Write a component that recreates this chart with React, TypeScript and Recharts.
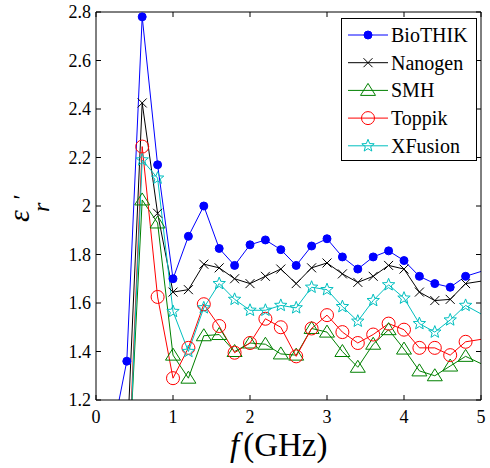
import React from "react";
import { LineChart, Line, XAxis, YAxis, Legend } from "recharts";

// frequency in GHz (last sample lies beyond the 5 GHz axis limit)
const freq = [0.2, 0.4, 0.6, 0.8, 1.0, 1.2, 1.4, 1.6, 1.8, 2.0, 2.2, 2.4, 2.6, 2.8, 3.0, 3.2, 3.4, 3.6, 3.8, 4.0, 4.2, 4.4, 4.6, 4.8, 5.2];

const bioTHIK = [1.04, 1.36, 2.78, 2.17, 1.7, 1.875, 2.0, 1.825, 1.755, 1.84, 1.86, 1.82, 1.755, 1.835, 1.865, 1.79, 1.74, 1.79, 1.815, 1.775, 1.71, 1.68, 1.665, 1.71, 1.75];
const nanogen = [null, 0.99, 2.425, 1.97, 1.645, 1.655, 1.76, 1.745, 1.7, 1.68, 1.71, 1.74, 1.68, 1.745, 1.765, 1.72, 1.685, 1.71, 1.755, 1.74, 1.645, 1.61, 1.615, 1.68, 1.7];
const smh = [null, 0.76, 2.025, 1.93, 1.385, 1.29, 1.465, 1.47, 1.4, 1.435, 1.43, 1.39, 1.385, 1.495, 1.48, 1.4, 1.335, 1.43, 1.49, 1.41, 1.32, 1.3, 1.34, 1.38, 1.32];
const toppik = [null, 0.75, 2.245, 1.625, 1.29, 1.415, 1.595, 1.505, 1.395, 1.435, 1.535, 1.5, 1.38, 1.495, 1.55, 1.48, 1.435, 1.47, 1.515, 1.49, 1.415, 1.415, 1.385, 1.44, 1.46];
const xFusion = [null, 0.72, 2.19, 2.115, 1.565, 1.4, 1.58, 1.68, 1.615, 1.57, 1.57, 1.59, 1.58, 1.665, 1.655, 1.585, 1.525, 1.61, 1.675, 1.62, 1.515, 1.48, 1.53, 1.59, 1.52];

const xTicks = [0, 1, 2, 3, 4, 5];
const yTicks = [1.2, 1.4, 1.6, 1.8, 2, 2.2, 2.4, 2.6, 2.8];

const data = freq.map((f, i) => ({
  f,
  bioTHIK: bioTHIK[i],
  nanogen: nanogen[i],
  smh: smh[i],
  toppik: toppik[i],
  xFusion: xFusion[i],
}));

const FONT = "Liberation Serif";

type Shape = "dot" | "x" | "tri" | "circle" | "star";

const Marker = ({ shape, cx, cy, color }: { shape: Shape; cx: number; cy: number; color: string }) => {
  if (shape === "dot") return <circle cx={cx} cy={cy} r={4} fill={color} stroke={color} />;
  if (shape === "x")
    return (
      <path
        d={`M${cx - 4.5},${cy - 4.5}L${cx + 4.5},${cy + 4.5}M${cx - 4.5},${cy + 4.5}L${cx + 4.5},${cy - 4.5}`}
        stroke={color}
        strokeWidth={1}
        fill="none"
      />
    );
  if (shape === "tri")
    return (
      <path
        d={`M${cx},${cy - 7}L${cx + 7.5},${cy + 5}L${cx - 7.5},${cy + 5}Z`}
        stroke={color}
        strokeWidth={1}
        fill="none"
      />
    );
  if (shape === "circle") return <circle cx={cx} cy={cy} r={6.5} stroke={color} strokeWidth={1} fill="none" />;
  const pts: string[] = [];
  for (let k = 0; k < 10; k++) {
    const r = k % 2 === 0 ? 6.5 : 2.8;
    const a = -Math.PI / 2 + (k * Math.PI) / 5;
    pts.push(`${cx + r * Math.cos(a)},${cy + r * Math.sin(a)}`);
  }
  return <polygon points={pts.join(" ")} stroke={color} strokeWidth={1} fill="none" />;
};

const series: { key: string; name: string; color: string; shape: Shape }[] = [
  { key: "bioTHIK", name: "BioTHIK", color: "#0000ff", shape: "dot" },
  { key: "nanogen", name: "Nanogen", color: "#000000", shape: "x" },
  { key: "smh", name: "SMH", color: "#008000", shape: "tri" },
  { key: "toppik", name: "Toppik", color: "#ff0000", shape: "circle" },
  { key: "xFusion", name: "XFusion", color: "#00bfbf", shape: "star" },
];

const makeDot = (shape: Shape, color: string) => (props: any) => {
  const { cx, cy, value, index, payload } = props;
  if (cx == null || cy == null || value == null || value < 1.2 || payload.f > 5) return <g key={`e${index}`} />;
  return (
    <g key={`d${index}`}>
      <Marker shape={shape} cx={cx} cy={cy} color={color} />
    </g>
  );
};

const LegendBox = () => (
  <svg width={136} height={143} style={{ display: "block" }}>
    <rect x={0.5} y={0.5} width={135} height={142} fill="#fff" stroke="#000" strokeWidth={1} />
    {series.map((s, i) => {
      const y = 17 + i * 27.7;
      return (
        <g key={s.key}>
          <line x1={7} x2={47} y1={y} y2={y} stroke={s.color} strokeWidth={1} />
          <Marker shape={s.shape} cx={27} cy={y} color={s.color} />
          <text x={50} y={y + 7} style={{ fontFamily: FONT }} fontSize={20} fill="#000">
            {s.name}
          </text>
        </g>
      );
    })}
  </svg>
);

const YLabel = () => (
  <g transform="translate(28.5,222) rotate(-90)" style={{ fontFamily: FONT }} fill="#000">
    <text x={0} y={0} fontSize={30} fontStyle="italic">ε</text>
    <text x={21} y={0} fontSize={24} fontStyle="italic">'</text>
    <text x={10} y={20} fontSize={24} fontStyle="italic">r</text>
  </g>
);

const XLabel = () => (
  <text x={230} y={456} style={{ fontFamily: FONT }} fontSize={33} fill="#000">
    <tspan fontStyle="italic">f</tspan>
    <tspan dx={4}>(GHz)</tspan>
  </text>
);

const tickStyle = { fontFamily: FONT, fontSize: 18, fill: "#000" };

export default function App() {
  return (
    <div style={{ position: "absolute", left: 0, top: 0, width: 490, height: 468, background: "#fff" }}>
      <LineChart width={490} height={468} data={data} margin={{ top: 11, right: 0, bottom: 0, left: 0 }}>
        <XAxis
          xAxisId="b"
          dataKey="f"
          type="number"
          domain={[0, 5]}
          ticks={xTicks}
          height={68}
          stroke="#000"
          tickSize={-5}
          tickMargin={15}
          tick={tickStyle}
          label={<XLabel />}
          allowDataOverflow
        />
        <XAxis
          xAxisId="t"
          orientation="top"
          dataKey="f"
          type="number"
          domain={[0, 5]}
          ticks={xTicks}
          height={1}
          stroke="#000"
          tickSize={-5}
          tickFormatter={() => ""}
          allowDataOverflow
        />
        <YAxis
          yAxisId="l"
          type="number"
          domain={[1.2, 2.8]}
          ticks={yTicks}
          width={96}
          stroke="#000"
          tickSize={-5}
          tickMargin={10}
          tick={tickStyle}
          tickFormatter={(v: number) => `${Math.round(v * 10) / 10}`}
          label={<YLabel />}
          allowDataOverflow
        />
        <YAxis
          yAxisId="r"
          orientation="right"
          type="number"
          domain={[1.2, 2.8]}
          ticks={yTicks}
          width={9}
          stroke="#000"
          tickSize={-5}
          tickFormatter={() => ""}
          allowDataOverflow
        />
        {series.map((s) => (
          <Line
            key={s.key}
            xAxisId="b"
            yAxisId="l"
            dataKey={s.key}
            name={s.name}
            type="linear"
            stroke={s.color}
            strokeWidth={1}
            dot={makeDot(s.shape, s.color)}
            activeDot={false}
            isAnimationActive={false}
          />
        ))}
        <Legend
          layout="vertical"
          align="center"
          verticalAlign="middle"
          wrapperStyle={{ left: 341, top: 18, width: 136, height: 143 }}
          content={() => <LegendBox />}
        />
      </LineChart>
    </div>
  );
}
